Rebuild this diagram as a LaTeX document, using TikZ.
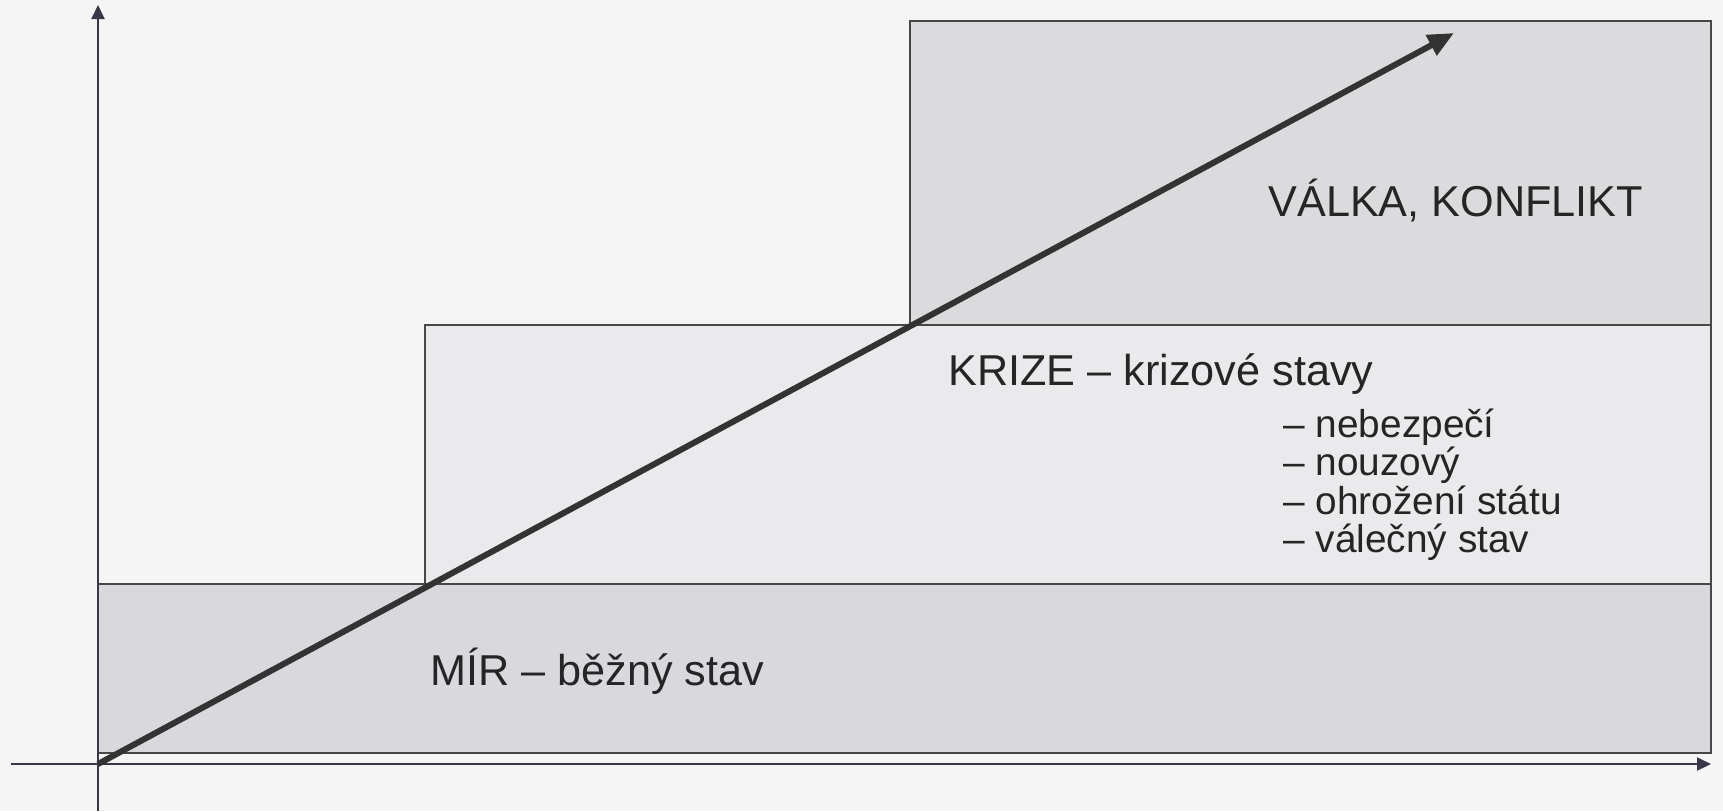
\documentclass[tikz,border=0pt]{standalone}
\usepackage{fontspec}
\setmainfont{Liberation Sans}
\usetikzlibrary{arrows.meta}
\definecolor{bg}{HTML}{F5F5F5}
\definecolor{fillmir}{HTML}{D9D8DC}
\definecolor{fillkrize}{HTML}{EAE9EC}
\definecolor{fillvalka}{HTML}{DBDADD}
\definecolor{boxline}{HTML}{474747}
\definecolor{axisline}{HTML}{3A3848}
\definecolor{trendline}{HTML}{333333}
\definecolor{txt}{HTML}{252525}
\begin{document}
\begin{tikzpicture}[x=0.5pt,y=-0.5pt,
  box/.style={draw=boxline, line width=0.9pt},
  axis/.style={draw=axisline, line width=1pt, -{Triangle[length=7pt,width=6.5pt]}},
  trend/.style={draw=trendline, line width=3pt, -{Triangle[length=13pt,width=11pt]}},
  biglab/.style={anchor=base west, inner sep=0pt, text=txt, font=\fontsize{21.6pt}{26pt}\selectfont},
  smalllab/.style={anchor=base west, inner sep=0pt, text=txt, font=\fontsize{19.4pt}{23pt}\selectfont}]
\useasboundingbox (0,0) rectangle (1723,811);
\fill[bg] (0,0) rectangle (1723,811);
% bands
\draw[box, fill=fillmir] (98,584) rectangle (1711,753);
\draw[box, fill=fillkrize] (425,325) rectangle (1711,584);
\draw[box, fill=fillvalka] (910,21) rectangle (1711,325);
% axes
\coordinate (O) at (98,764);
\coordinate (ybot) at (98,811);
\coordinate (ytip) at (98,5);
\coordinate (xleft) at (11,764);
\coordinate (xtip) at (1711,764);
\coordinate (ttip) at (1454,33);
\draw[axis] (ybot) -- (ytip);
\draw[axis] (xleft) -- (xtip);
% trend arrow
\draw[trend] (O) -- (ttip);
% labels
\node[biglab] (valka) at (1268,216) {VÁLKA, KONFLIKT};
\node[biglab] (krize) at (948,385) {KRIZE – krizové stavy};
\node[smalllab] (l1) at (1283,437) {– nebezpečí};
\node[smalllab] (l2) at (1283,475.5) {– nouzový};
\node[smalllab] (l3) at (1283,514) {– ohrožení státu};
\node[smalllab] (l4) at (1283,552.5) {– válečný stav};
\node[biglab] (mir) at (430,685) {MÍR – běžný stav};
\end{tikzpicture}
\end{document}
